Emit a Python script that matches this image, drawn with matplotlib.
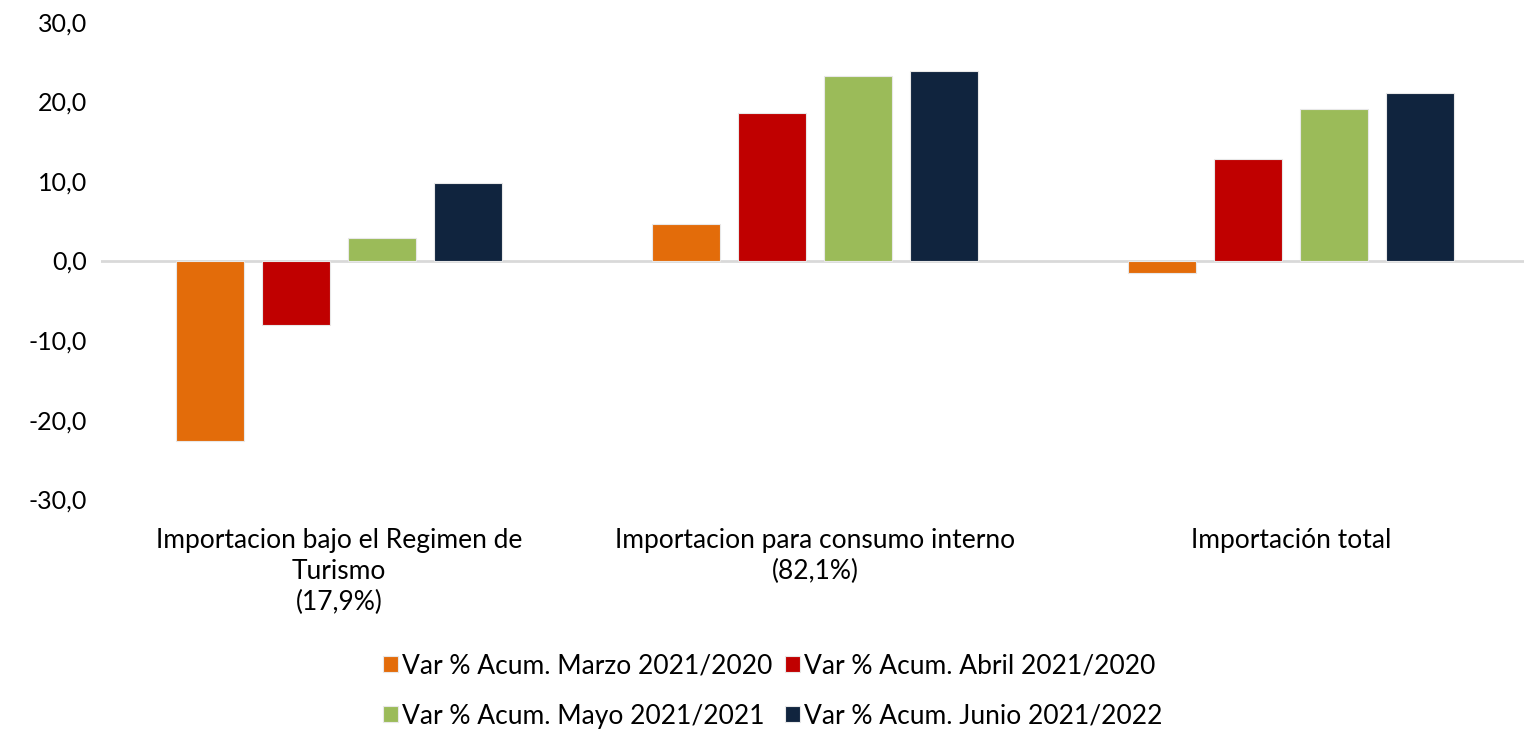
import numpy as np
import matplotlib.pyplot as plt

plt.rcParams['font.family'] = ['Lato', 'DejaVu Sans']

categories = ['Importacion bajo el Regimen de\nTurismo\n(17,9%)',
              'Importacion para consumo interno\n(82,1%)',
              'Importación total']
series = ['Var % Acum. Marzo 2021/2020', 'Var % Acum. Abril 2021/2020',
          'Var % Acum. Mayo 2021/2021', 'Var % Acum. Junio 2021/2022']
marzo = [-22.7, 4.6, -1.6]
abril = [-8.1, 18.6, 12.8]
mayo = [2.8, 23.2, 19.0]
junio = [9.8, 23.9, 21.1]
colors = ['#E36C0A', '#C00000', '#9BBB59', '#10243E']

fig = plt.figure(figsize=(15.24, 7.34), dpi=100)
ax = fig.add_axes([0.0663, 0.32, 0.937, 0.65])

x = np.arange(len(categories))
pitch = 0.1807
width = 0.143
bars = []
for i, (vals, name, c) in enumerate(zip([marzo, abril, mayo, junio], series, colors)):
    b = ax.bar(x + (i - 1.5) * pitch, vals, width, color=c, label=name,
               edgecolor='#e8e8e8', linewidth=0.8)
    bars.append(b)

ax.axhline(0, color='#d9d9d9', linewidth=2, zorder=0)
ax.set_xlim(-0.5, 2.5)
ax.set_ylim(-30, 30)
ax.set_yticks(np.arange(-30, 31, 10))
ax.set_yticklabels([f'{v:.1f}'.replace('.', ',') for v in np.arange(-30, 31, 10)], fontsize=18)
ax.set_xticks(x)
ax.set_xticklabels(categories, fontsize=19, linespacing=1.3)
ax.tick_params(length=0)
ax.tick_params(axis='x', pad=21)
ax.tick_params(axis='y', pad=10)
for s in ax.spines.values():
    s.set_visible(False)

# row-major legend order
order = [0, 2, 1, 3]
fig.legend([bars[i] for i in order], [series[i] for i in order],
           loc='center', bbox_to_anchor=(0.507, 0.0586), ncol=2, frameon=False,
           fontsize=19, handlelength=0.55, handleheight=0.55, handletextpad=0.15,
           columnspacing=0.5, labelspacing=0.95)

fig.savefig('out.png', dpi=100)
